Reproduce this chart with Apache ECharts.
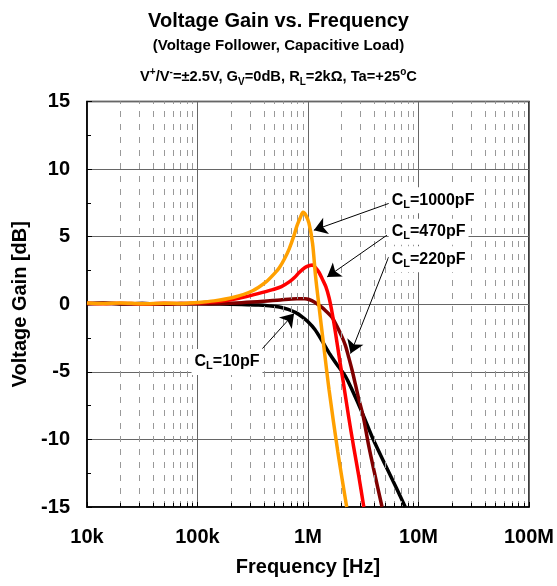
<!DOCTYPE html>
<html><head><meta charset="utf-8">
<script src="https://cdn.jsdelivr.net/npm/echarts@6/dist/echarts.min.js"></script>
<style>html,body{margin:0;padding:0;background:#fff}#c{width:557px;height:586px}</style>
</head><body><div id="c"></div>
<script>
// ---- data ----
const xTickLabels = ['10k', '100k', '1M', '10M', '100M'];
const yMin = -15, yMax = 15, yStep = 5;

const freq10pF = [10000,14000,20000,31600,50000,70800,100000,158000,251000,355000,447000,550000,661000,776000,891000,1000000,1150000,1350000,1580000,1860000,2190000,2510000,3160000,3800000,5010000,6310000,7590000];
const gain10pF = [0.05,0.08,0.02,0.06,0.02,0.04,0.03,0.01,-0.02,-0.06,-0.12,-0.2,-0.38,-0.62,-0.95,-1.3,-1.85,-2.75,-3.7,-4.55,-5.35,-6.35,-8.2,-9.8,-11.9,-13.6,-15];

const freq220pF = [10000,14000,20000,31600,50000,70800,100000,158000,251000,398000,562000,794000,933000,1020000,1150000,1320000,1450000,1660000,1820000,2040000,2190000,2340000,2510000,2690000,2880000,3160000,3550000,3980000,4680000];
const gain220pF = [0.02,0.1,0.03,0.05,0.0,0.05,0.04,0.06,0.12,0.22,0.32,0.4,0.4,0.35,0.15,-0.2,-0.5,-1.0,-1.6,-2.45,-3.1,-3.95,-4.9,-5.95,-7.0,-8.3,-10.5,-12.4,-15];

const freq470pF = [10000,14000,20000,31600,50000,70800,100000,158000,224000,295000,398000,479000,575000,676000,759000,832000,933000,1020000,1100000,1170000,1260000,1350000,1450000,1550000,1660000,1780000,1950000,2090000,2340000,2570000,2880000,3200000];
const gain470pF = [0.1,0.03,0.08,0.02,0.07,0.05,0.1,0.2,0.4,0.62,0.9,1.08,1.3,1.65,2.0,2.35,2.7,2.85,2.9,2.7,2.35,1.85,1.3,0.5,-0.7,-2.2,-4.3,-5.8,-8.4,-10.4,-12.7,-15];

const freq1000pF = [10000,14000,20000,31600,50000,70800,100000,141000,209000,316000,417000,501000,550000,617000,676000,741000,794000,851000,902000,955000,1020000,1100000,1170000,1260000,1380000,1550000,1860000,2240000];
const gain1000pF = [0.1,0.05,0.1,0.03,0.08,0.05,0.13,0.25,0.5,1.0,1.65,2.3,2.7,3.4,4.1,5.0,5.8,6.4,6.8,6.6,6.0,4.5,2.1,-0.2,-2.9,-6.3,-10.9,-15];

// annotation labels and arrows (data coordinates: Hz, dB)
const annoLabels = ['C{s|L}=1000pF', 'C{s|L}=470pF', 'C{s|L}=220pF', 'C{s|L}=10pF'];
const annoLabelPos = [[5370000, 7.7], [5370000, 5.36], [5370000, 3.33], [88300, -4.27]];
const annoArrowFrom = [[5560000, 7.5], [5180000, 5.11], [5370000, 3.5], [387000, -3.28]];
const annoArrowTo = [[1130000, 5.48], [1490000, 2.02], [2430000, -3.65], [748000, -0.69]];

const decades = [10000, 100000, 1000000, 10000000];
const minorMult = [2, 3, 4, 5, 6, 7, 8, 9];

// ---- build ----
const FONT = '"Liberation Sans", Arial, Helvetica, sans-serif';
const zip = (a, b) => a.map((v, i) => [v, b[i]]);
const minorX = [];
decades.forEach(d => minorMult.forEach(m => minorX.push(d * m)));

const labelMap = {};
xTickLabels.forEach((t, i) => { labelMap[4 + i] = t; });

const gridLineItems = minorX.map(v => ({ xAxis: v }));
const tickItems = minorX.map(v => [
  { coord: [v, yMin], lineStyle: { type: 'solid', color: '#000', width: 1 } },
  { coord: [v, yMin + 0.3] }
]);

function curve(name, f, g, color, z) {
  return {
    name, type: 'line', data: zip(f, g), showSymbol: false, smooth: 0.3,
    lineStyle: { color, width: 3.5 }, itemStyle: { color }, z, silent: true
  };
}

const chart = echarts.init(document.getElementById('c'), null, { renderer: 'canvas' });
chart.setOption({
  animation: false,
  backgroundColor: '#fff',
  textStyle: { fontFamily: FONT },
  title: [
    { text: 'Voltage Gain vs. Frequency', left: 'center', top: 6,
      textStyle: { fontSize: 20, fontWeight: 'bold', color: '#000', fontFamily: FONT } },
    { text: '(Voltage Follower, Capacitive Load)', left: 'center', top: 33,
      textStyle: { fontSize: 15, fontWeight: 'bold', color: '#000', fontFamily: FONT } },
    { text: 'V{p|+}/V{p|-}=±2.5V, G{s|V}=0dB, R{s|L}=2kΩ, Ta=+25{p|o}C', left: 'center', top: 62,
      textStyle: { fontSize: 14.7, fontWeight: 'bold', color: '#000', fontFamily: FONT, lineHeight: 20,
        rich: {
          p: { fontSize: 10, fontWeight: 'bold', fontFamily: FONT, color: '#000', verticalAlign: 'top', lineHeight: 20 },
          s: { fontSize: 10, fontWeight: 'bold', fontFamily: FONT, color: '#000', verticalAlign: 'bottom', lineHeight: 20 }
        } } }
  ],
  grid: { left: 87, right: 26, top: 101.5, bottom: 79, show: true, borderColor: '#000', borderWidth: 1.5, backgroundColor: '#fff' },
  xAxis: {
    type: 'log', logBase: 10, min: 1e4, max: 1e8, splitNumber: 4,
    axisLine: { show: true, onZero: false, lineStyle: { color: '#000', width: 1.5 } },
    axisTick: { show: true, inside: true, length: 5, lineStyle: { color: '#000' } },
    axisLabel: { fontSize: 20, fontWeight: 'bold', color: '#000', margin: 20, fontFamily: FONT,
      formatter: v => labelMap[Math.round(Math.log10(v))] || '' },
    splitLine: { show: true, lineStyle: { color: '#666', width: 1 } },
    name: 'Frequency [Hz]', nameLocation: 'middle', nameGap: 50,
    nameTextStyle: { fontSize: 20, fontWeight: 'bold', color: '#000', fontFamily: FONT }
  },
  yAxis: {
    type: 'value', min: yMin, max: yMax, interval: yStep,
    axisLine: { show: true, onZero: false, lineStyle: { color: '#000', width: 1.5 } },
    axisTick: { show: true, inside: true, length: 5, lineStyle: { color: '#000' } },
    minorTick: { show: true, splitNumber: 2, length: 4, lineStyle: { color: '#000' } },
    axisLabel: { fontSize: 20, fontWeight: 'bold', color: '#000', margin: 17, fontFamily: FONT },
    splitLine: { show: true, lineStyle: { color: '#666', width: 1 } },
    name: 'Voltage Gain [dB]', nameLocation: 'middle', nameGap: 54, nameRotate: 90,
    nameTextStyle: { fontSize: 20, fontWeight: 'bold', color: '#000', fontFamily: FONT }
  },
  series: [
    { name: 'minorGrid', type: 'line', data: [], z: 1, silent: true,
      markLine: { silent: true, symbol: 'none', animation: false, label: { show: false },
        lineStyle: { type: [6, 7], color: '#999', width: 1 },
        data: gridLineItems.concat(tickItems) } },
    curve('CL=10pF', freq10pF, gain10pF, '#000000', 3),
    curve('CL=220pF', freq220pF, gain220pF, '#800000', 4),
    curve('CL=470pF', freq470pF, gain470pF, '#ff0000', 5),
    curve('CL=1000pF', freq1000pF, gain1000pF, '#ffa000', 6),
    { name: 'annotations', type: 'line', data: [], z: 10, silent: true,
      markLine: { silent: true, animation: false, symbol: ['none', 'arrow'], symbolSize: 13,
        label: { show: false }, lineStyle: { type: 'solid', color: '#000', width: 1 },
        data: annoArrowFrom.map((p, i) => [{ coord: p }, { coord: annoArrowTo[i] }]) },
      markPoint: { silent: true, animation: false, symbol: 'rect', symbolSize: 0,
        data: annoLabelPos.map((p, i) => ({ coord: p,
          label: { show: true, position: 'right', distance: 0, formatter: annoLabels[i],
            backgroundColor: '#fff', padding: [3, 3, 3, 3],
            fontSize: 16, fontWeight: 'bold', color: '#000', fontFamily: FONT, lineHeight: 20,
            rich: { s: { fontSize: 11, fontWeight: 'bold', color: '#000', fontFamily: FONT, verticalAlign: 'bottom', lineHeight: 20 } } } })) } }
  ]
});
</script></body></html>
